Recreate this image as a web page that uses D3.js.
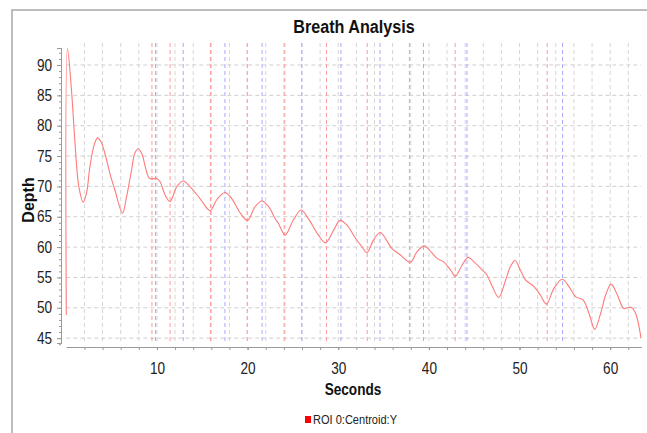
<!DOCTYPE html>
<html lang="en">
<head>
    <meta charset="UTF-8">
    <title>Breath Analysis</title>
    <script src="https://cdnjs.cloudflare.com/ajax/libs/d3/7.8.5/d3.min.js"></script>
    <style>
        body { margin: 0; background: #fff; }
        text { font-family: "Liberation Sans", Arial, sans-serif; }
    </style>
</head>
<body>
<svg width="647" height="433"></svg>
<script>
    // breath trace
    const seconds = [0, 0.13, 0.57, 0.94, 1.38, 1.86, 2.23, 2.6, 3.07, 3.45, 3.81, 4.25, 4.8, 5.36, 6.2,
        6.65, 7.2, 7.57, 7.93, 8.38, 8.75, 9.2, 9.97, 10.33, 10.9, 11.44, 12.2, 12.9, 13.8, 14.75,
        15.86, 16.6, 17.5, 18.25, 19.2, 20.0, 20.8, 21.57, 22.3, 23.04, 23.4, 24.14, 25.06, 25.9,
        26.7, 27.8, 28.6, 29.5, 30.2, 30.96, 31.9, 32.6, 33.17, 33.9, 34.64, 35.3, 35.9, 36.85,
        37.96, 38.7, 39.5, 40.2, 40.9, 41.6, 42.4, 42.9, 43.67, 44.33, 44.95, 45.9, 46.4, 47.0,
        47.7, 48.45, 49.0, 49.5, 50.1, 50.66, 51.6, 52.3, 52.95, 53.8, 54.7, 55.45, 56.2, 57.0,
        57.66, 58.3, 58.95, 59.5, 60.1, 60.8, 61.5, 62.3, 62.8, 63.4];
    const depth = [48.8, 92.7, 85.9, 77.6, 70.0, 67.4, 68.9, 73.2, 76.8, 78.0, 77.4, 75.5, 72.2, 69.4, 65.6,
        68.3, 72.7, 75.5, 76.2, 75.2, 73.0, 71.3, 71.3, 70.8, 68.6, 67.5, 70.0, 70.9, 69.7, 68.0,
        66.0, 67.8, 69.0, 68.0, 65.6, 64.4, 66.6, 67.6, 66.7, 64.7, 63.9, 62.0, 64.5, 66.1,
        64.7, 62.0, 60.7, 62.8, 64.4, 63.6, 61.45, 60.1, 59.1, 61.2, 62.4, 61.2, 59.8, 58.7,
        57.5, 59.25, 60.2, 59.25, 58.15, 57.6, 56.2, 55.2, 57.05, 58.3, 57.6, 56.2, 55.4, 53.5,
        51.7, 54.5, 56.8, 57.8, 56.2, 54.6, 53.5, 52.1, 50.6, 53.2, 54.7, 53.5, 51.8, 51.3,
        49.1, 46.45, 49.1, 52.1, 53.9, 52.1, 49.9, 50.1, 49.1, 45.0];

    // marker lines (troughs red, peaks blue)
    const troughTimes = [9.45, 11.45, 15.9, 19.95, 24.1, 28.7, 33.2, 37.85, 42.9, 53.05];
    const peakTimes = [9.85, 12.9, 17.5, 21.6, 25.98, 30.3, 34.6, 39.4, 44.2, 54.75];

    const xMajor = [10, 20, 30, 40, 50, 60];
    const xMinor = d3.range(2, 63, 2);
    const yMajor = [45, 50, 55, 60, 65, 70, 75, 80, 85, 90];
    const yMinor = d3.range(44, 93, 1);

    const svg = d3.select('svg');
    const SQ = 0.85; // the picture is squeezed sideways

    // outer frame
    svg.append('rect')
        .attr('x', 12).attr('y', 10)
        .attr('width', 700).attr('height', 500)
        .attr('fill', 'none')
        .attr('stroke', '#a8a8a8')
        .attr('stroke-width', 1.5);

    const plotLeft = 66.3, plotRight = 641, plotTop = 48, plotBottom = 343;
    const x = d3.scaleLinear().domain([0, 63.4]).range([plotLeft, plotRight]);
    const y = d3.scaleLinear().domain([44.2, 92.8]).range([plotBottom, plotTop]);

    // grid
    const grid = svg.append('g');
    grid.selectAll('line.h').data(yMajor).join('line')
        .attr('x1', plotLeft).attr('x2', plotRight)
        .attr('y1', d => y(d)).attr('y2', d => y(d))
        .attr('stroke', '#cfcfcf').attr('stroke-dasharray', '4,3');
    grid.selectAll('line.v').data(xMinor).join('line')
        .attr('x1', d => x(d)).attr('x2', d => x(d))
        .attr('y1', 43).attr('y2', plotBottom)
        .attr('stroke', '#d6d6d6').attr('stroke-dasharray', '4,3');

    grid.selectAll('line.t').data(troughTimes).join('line')
        .attr('x1', d => x(d)).attr('x2', d => x(d))
        .attr('y1', 43).attr('y2', plotBottom)
        .attr('stroke', '#ff9a9a').attr('stroke-dasharray', '4,3');
    grid.selectAll('line.p').data(peakTimes).join('line')
        .attr('x1', d => x(d)).attr('x2', d => x(d))
        .attr('y1', 43).attr('y2', plotBottom)
        .attr('stroke', '#a8a8ff').attr('stroke-dasharray', '4,3');

    // axes
    const yAxis = svg.append('g').attr('transform', 'translate(61,0)');
    yAxis.call(d3.axisLeft(y).tickValues(yMinor).tickSize(2).tickFormat(''));
    yAxis.append('g').call(d3.axisLeft(y).tickValues(yMajor).tickSize(4).tickPadding(5));
    yAxis.selectAll('.domain').attr('stroke', '#999');
    yAxis.selectAll('line').attr('stroke', '#999');
    yAxis.selectAll('text')
        .attr('font-size', 16).attr('fill', '#222')
        .attr('font-family', '"Liberation Sans", Arial, sans-serif')
        .attr('transform', `scale(${SQ},1)`)
        .attr('x', -9 / SQ);

    const xAxis = svg.append('g').attr('transform', `translate(0,${plotBottom + 4})`);
    xAxis.call(d3.axisBottom(x).tickValues(xMinor).tickSize(3).tickFormat('').tickSizeOuter(0));
    xAxis.append('g').call(d3.axisBottom(x).tickValues(xMajor).tickSize(3).tickPadding(13).tickSizeOuter(0));
    xAxis.selectAll('.domain').attr('stroke', '#999');
    xAxis.selectAll('line').attr('stroke', '#999');
    xAxis.selectAll('text')
        .attr('font-size', 16).attr('fill', '#222')
        .attr('font-family', '"Liberation Sans", Arial, sans-serif')
        .attr('transform', `scale(${SQ},1)`);

    // series
    const line = d3.line()
        .x((d, i) => x(seconds[i]))
        .y(d => y(d))
        .curve(d3.curveCatmullRom.alpha(0.5));
    svg.append('path')
        .datum(depth)
        .attr('d', line)
        .attr('fill', 'none')
        .attr('stroke', '#ff7a7a')
        .attr('stroke-width', 1.1);

    // titles
    const label = (tx, ty, txt, size, bold, rot) => {
        svg.append('g')
            .attr('transform', `translate(${tx},${ty})` + (rot ? ' rotate(-90)' : ` scale(${SQ},1)`))
            .append('text')
            .attr('text-anchor', 'middle')
            .attr('font-size', size)
            .attr('font-weight', bold ? 'bold' : 'normal')
            .attr('fill', '#111')
            .text(txt);
    };
    label(354, 33, 'Breath Analysis', 19, true);
    label(353, 395, 'Seconds', 16, true);
    label(34, 200, 'Depth', 16, true, true);

    // legend
    svg.append('rect')
        .attr('x', 305).attr('y', 416)
        .attr('width', 6).attr('height', 7)
        .attr('fill', '#ff0000');
    svg.append('g')
        .attr('transform', `translate(313,424) scale(${SQ},1)`)
        .append('text')
        .attr('font-size', 13)
        .attr('fill', '#222')
        .text('ROI 0:Centroid:Y');
</script>
</body>
</html>
